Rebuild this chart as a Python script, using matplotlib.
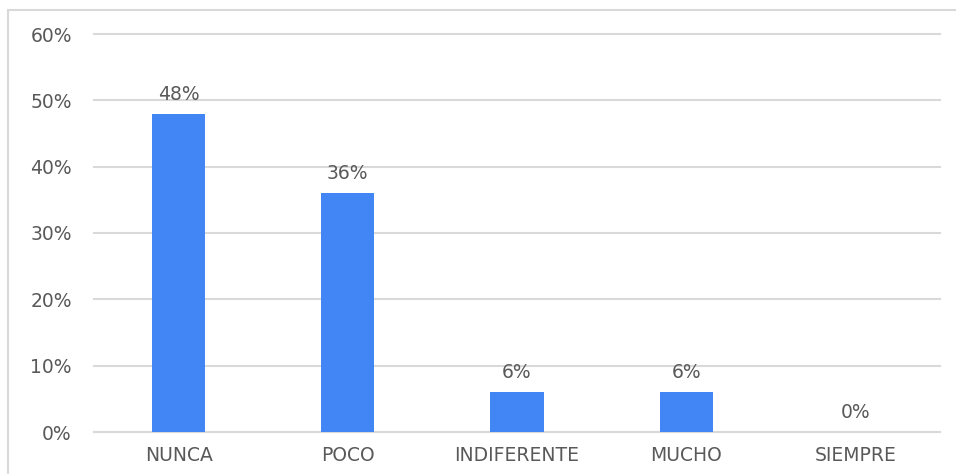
import matplotlib.pyplot as plt
from matplotlib.patches import Rectangle
from matplotlib.ticker import PercentFormatter

categories = ["NUNCA", "POCO", "INDIFERENTE", "MUCHO", "SIEMPRE"]
values = [48, 36, 6, 6, 0]
yticks = [0, 10, 20, 30, 40, 50, 60]

text_color = "#595959"
bar_color = "#4285F4"
grid_color = "#d9d9d9"

plt.rcParams['font.family'] = ['DejaVu Sans']

my_dpi = 100
fig = plt.figure(figsize=(956/my_dpi, 474/my_dpi), dpi=my_dpi)
ax = fig.add_axes([94/956, 1 - 432/474, 846/956, 398/474])

x = range(len(categories))
bars = ax.bar(x, values, width=0.315, color=bar_color, zorder=3)

for b, v in zip(bars, values):
    ax.annotate(f"{v}%", (b.get_x() + b.get_width()/2, v), xytext=(0, 7),
                textcoords="offset points", ha="center", va="bottom",
                fontsize=13.5, color=text_color)

ax.set_xlim(-0.5, len(categories) - 0.5)
ax.set_ylim(0, 60)
ax.set_yticks(yticks)
ax.yaxis.set_major_formatter(PercentFormatter(decimals=0))
ax.set_xticks(list(x))
ax.set_xticklabels(categories)
ax.tick_params(axis="y", length=0, pad=16, labelsize=13.5, labelcolor=text_color)
ax.tick_params(axis="x", length=0, pad=10, labelsize=13.5, labelcolor=text_color)
ax.grid(axis="y", color=grid_color, linewidth=1.5, zorder=0)
for gl in ax.get_ygridlines():
    gl.set_clip_on(False)
for s in ["top", "right", "left"]:
    ax.spines[s].set_visible(False)
ax.spines["bottom"].set_color(grid_color)
ax.spines["bottom"].set_linewidth(1.5)

# outer chart border
fig.patches.append(Rectangle((8/956, -0.05), 1.1, 1 - 10/474 + 0.05,
                             transform=fig.transFigure, fill=False,
                             edgecolor=grid_color, linewidth=1.5))

fig.savefig("out.png", dpi=my_dpi)
plt.close(fig)
